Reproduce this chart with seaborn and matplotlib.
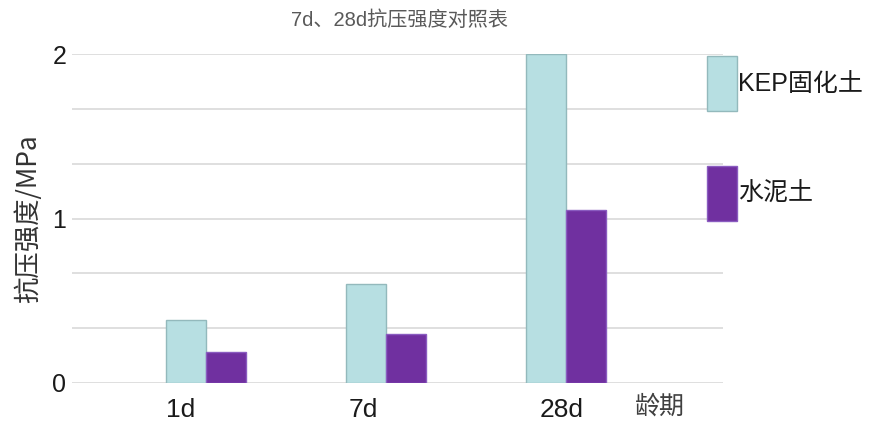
import numpy as np
import pandas as pd
import matplotlib
matplotlib.use("Agg")
import matplotlib.pyplot as plt
from matplotlib.transforms import ScaledTranslation
import seaborn as sns

# Compressive strength by curing age
ages = ["1d", "7d", "28d"]
kep_strength = [0.38, 0.60, 2.00]      # KEP固化土
cement_strength = [0.19, 0.30, 1.05]   # 水泥土
series_names = ["KEP固化土", "水泥土"]
y_ticks = [0, 1, 2]

df = pd.DataFrame({
    "龄期": ages * 2,
    "强度": kep_strength + cement_strength,
    "材料": [series_names[0]] * len(ages) + [series_names[1]] * len(ages),
})

sns.set_theme(style="white")
plt.rcParams["font.family"] = ["Liberation Sans", "Noto Sans CJK SC", "DejaVu Sans"]
CJK = ["Noto Sans CJK SC", "DejaVu Sans"]

fig = plt.figure(figsize=(8.76, 4.22), dpi=100)
ax = fig.add_axes([72 / 876, (422 - 383) / 422, (723 - 72) / 876, (383 - 54) / 422])

palette = {series_names[0]: "#b7dfe2", series_names[1]: "#7030a0"}
sns.barplot(data=df, x="龄期", y="强度", hue="材料", palette=palette,
            width=0.44, gap=0, saturation=1, ax=ax, legend=False, zorder=3)

edge_colors = ["#93b9bc", "#8a5cc0"]
for container, ec in zip(ax.containers, edge_colors):
    for bar in container:
        bar.set_edgecolor(ec)
        bar.set_linewidth(1.0)

ax.set_xlim(-0.744, 2.872)
ax.set_ylim(0, 2)
ax.set_yticks(y_ticks)
ax.set_yticks(np.arange(0, 2.01, 1 / 3), minor=True)
ax.grid(axis="y", which="both", color="#d9d9d9", linewidth=1.2, zorder=0)
ax.grid(axis="x", visible=False)
ax.set_axisbelow(True)
for s in ax.spines.values():
    s.set_visible(False)
ax.tick_params(axis="both", which="both", length=0)
ax.tick_params(axis="y", labelsize=18, pad=4, labelcolor="#1a1a1a")
ax.tick_params(axis="x", labelsize=19, pad=11, labelcolor="#1a1a1a")

# category labels sit slightly left of their bar groups
label_shift_px = [-25, -23, -4]
for lab, dx in zip(ax.get_xticklabels(), label_shift_px):
    lab.set_transform(lab.get_transform() + ScaledTranslation(dx / 100, 0, fig.dpi_scale_trans))

ax.set_xlabel("")
ax.set_ylabel("抗压强度/MPa", fontsize=19, color="#333333", family=CJK)
ax.yaxis.set_label_coords(-0.046, 0.5)

ax.text(2.52, -0.065, "龄期", transform=ax.transData, fontsize=18, color="#404040",
        family=CJK, ha="center", va="top")

fig.text(400 / 876, 1 - 20 / 422, "7d、28d抗压强度对照表", fontsize=14.5,
         color="#595959", ha="center", va="center",
         family=["Liberation Sans", "Noto Sans CJK SC", "DejaVu Sans"])

handles = [ax.containers[0].patches[0], ax.containers[1].patches[0]]
leg = ax.legend(handles, series_names, loc="upper left",
                bbox_to_anchor=(0.975, 0.994), frameon=False,
                fontsize=18, handlelength=1.2, handleheight=3.0,
                handletextpad=0.05, labelspacing=2.2, borderpad=0,
                borderaxespad=0)
for t in leg.get_texts():
    t.set_color("#1a1a1a")

fig.savefig("out.png", dpi=100)
